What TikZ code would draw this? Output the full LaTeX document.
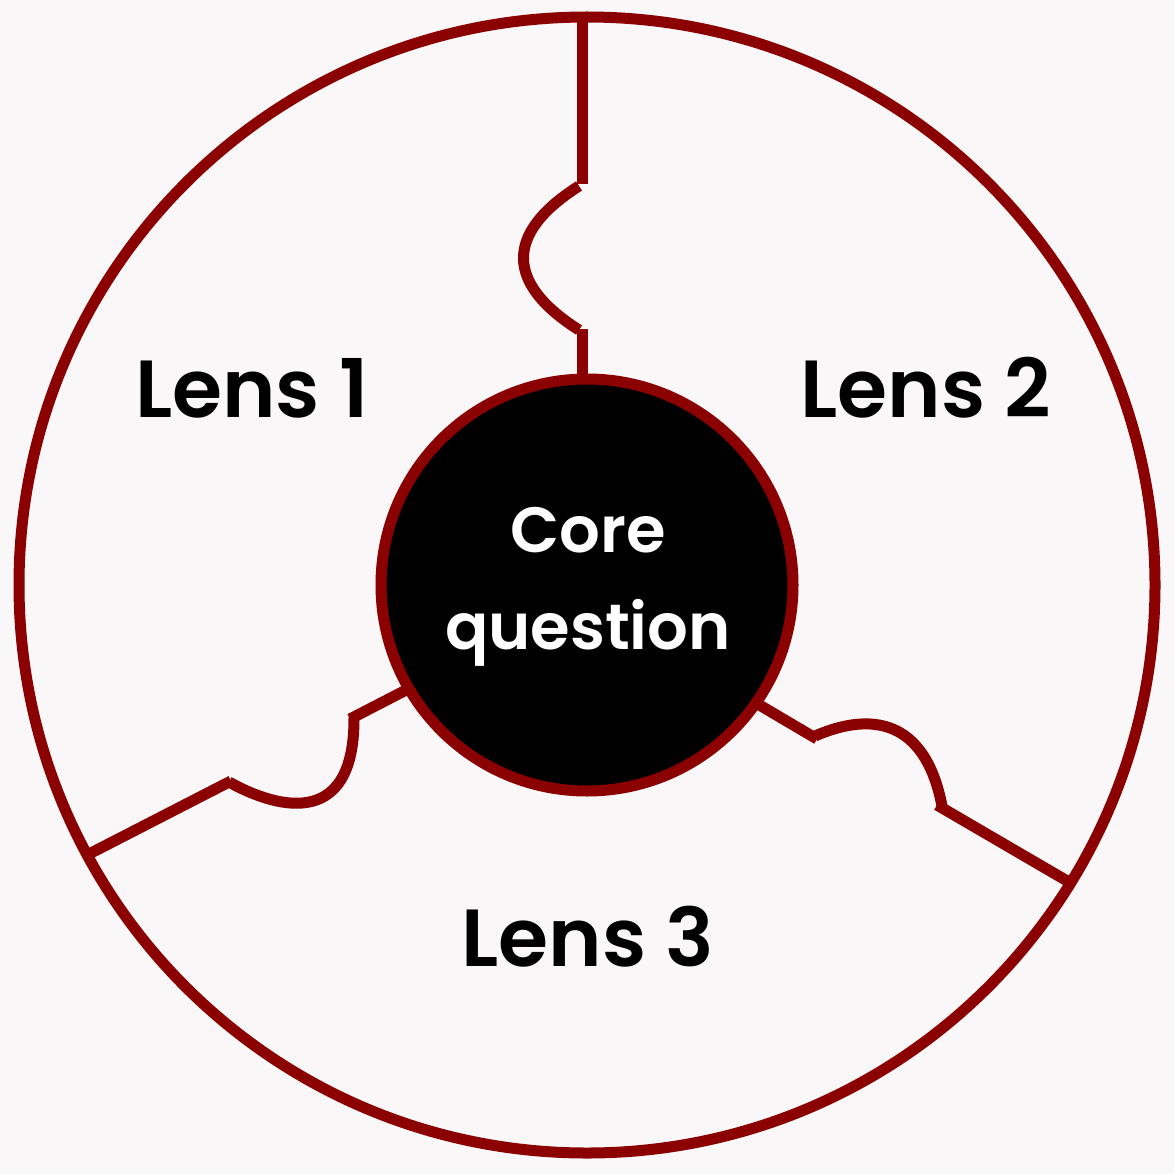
\documentclass[tikz,border=0pt]{standalone}
\usepackage{fontspec}
\setmainfont{Poppins}[BoldFont={Poppins SemiBold}]
\definecolor{bg}{HTML}{F9F7F8}
\definecolor{rim}{HTML}{8B0000}
\begin{document}
\begin{tikzpicture}[x=1pt,y=-1pt,
  rimline/.style={draw=rim,line width=11pt},
  lenslabel/.style={font=\fontsize{81}{84}\selectfont\bfseries,text=black,inner sep=0pt},
  corelabel/.style={font=\fontsize{64}{97}\selectfont\bfseries,text=white,inner sep=0pt,align=center}]
\fill[bg] (0,0) rectangle (1174,1174);
\useasboundingbox (0,0) rectangle (1174,1174);
% outer circle
\draw[rimline] (587,585) circle (568);
% dividers
\coordinate (t0) at (582,18);
\coordinate (t1) at (582,184);
\coordinate (t2) at (579,186);
\coordinate (t3) at (579,330);
\coordinate (t4) at (582,329);
\coordinate (t5) at (582,382);
\draw[rimline] (t0) -- (t1);
\draw[rimline] (t2) .. controls (505,233) and (505,283) .. (t3);
\draw[rimline] (t4) -- (t5);
\coordinate (l0) at (89,854);
\coordinate (l1) at (231,781);
\coordinate (l2) at (229,782);
\coordinate (l3) at (354,717);
\coordinate (l4) at (350,719);
\coordinate (l5) at (410,688);
\draw[rimline] (l0) -- (l1);
\draw[rimline] (l2) .. controls (270,805) and (355,835) .. (l3);
\draw[rimline] (l4) -- (l5);
\coordinate (r0) at (756,703);
\coordinate (r1) at (817,739);
\coordinate (r2) at (815,736);
\coordinate (r3) at (942,806);
\coordinate (r4) at (937,805);
\coordinate (r5) at (1069,882);
\draw[rimline] (r0) -- (r1);
\draw[rimline] (r2) .. controls (870,712) and (925,718) .. (r3);
\draw[rimline] (r4) -- (r5);
% core
\node[circle,fill=black,draw=rim,line width=11pt,minimum size=412pt,inner sep=0pt] (core) at (587,585) {};
\node[corelabel] (coretext) at (588,587) {Core\\question};
\node[lenslabel] (lens1) at (252,388) {Lens 1};
\node[lenslabel] (lens2) at (926,388) {Lens 2};
\node[lenslabel] (lens3) at (588,937) {Lens 3};
\end{tikzpicture}
\end{document}
